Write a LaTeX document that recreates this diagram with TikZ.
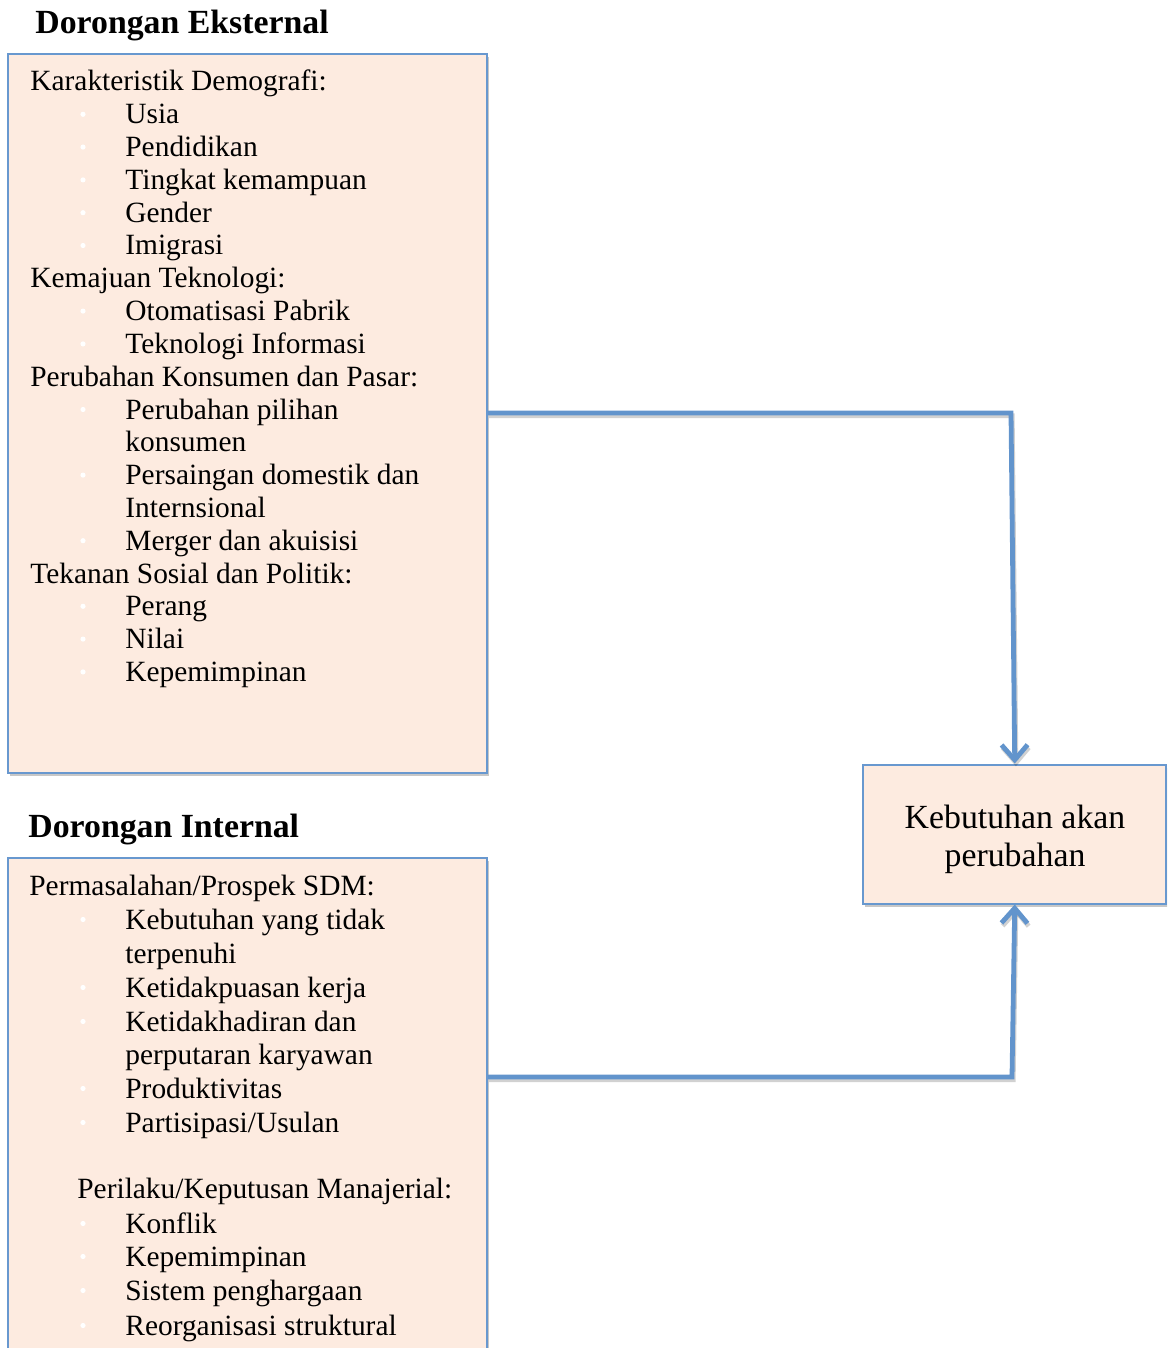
\documentclass[tikz,border=0pt]{standalone}
\usepackage{fontspec}
\setmainfont{Liberation Serif}
\usetikzlibrary{arrows.meta,shadows,fit}
\definecolor{peach}{RGB}{253,235,224}
\definecolor{boxblue}{RGB}{104,152,207}
\definecolor{lineblue}{RGB}{98,148,204}
\newcommand\bfnt{\fontsize{14.7}{17}\selectfont}
\newcommand\tfnt{\fontsize{16.9}{19}\selectfont\bfseries}
\newcommand\kfnt{\fontsize{16.9}{19}\selectfont}
\newcommand\wb[1]{\fill[white] (83,#1-9.5) circle[radius=2.6];}
\tikzset{
  panel/.style={draw=boxblue, fill=peach, line width=1pt, inner sep=0pt,
    drop shadow={shadow xshift=0.8pt, shadow yshift=-1.6pt, fill=black, opacity=0.22}},
  txt/.style={anchor=base west, inner sep=0pt, font=\bfnt},
  ttl/.style={anchor=base west, inner sep=0pt, font=\tfnt},
  link/.style={draw=lineblue, line width=2.4pt,
    preaction={draw=black, opacity=0.18, line width=2.4pt, transform canvas={xshift=0.6pt, yshift=-1.4pt}}},
  tip/.style={-{Straight Barb[length=7.5pt,width=13pt,line width=2.4pt]}}
}
\begin{document}
\begin{tikzpicture}[x=0.5pt,y=-0.5pt]
\clip (0,0) rectangle (1167,1348);
% titles
\node[ttl] (ttlE) at (35,34) {Dorongan Eksternal};
\node[ttl] (ttlI) at (28,837) {Dorongan Internal};
% panels
\coordinate (e1) at (8,54); \coordinate (e2) at (487,773);
\node[panel, fit=(e1)(e2)] (ext) {};
\coordinate (i1) at (8,858); \coordinate (i2) at (487,1400);
\node[panel, fit=(i1)(i2)] (int) {};
\node[panel, minimum width=151.5pt, minimum height=69.5pt] (res) at (1014.75,834) {};
\node[font=\kfnt, align=center, inner sep=0pt] (restxt) at (1015,839.5) {Kebutuhan akan\\perubahan};
% external text
\node[txt] (a1) at (30,91) {Karakteristik Demografi:};
\node[txt] (a2) at (125,123.8) {Usia};
\node[txt] (a3) at (125,156.6) {Pendidikan};
\node[txt] (a4) at (125,189.4) {Tingkat kemampuan};
\node[txt] (a5) at (125,222.2) {Gender};
\node[txt] (a6) at (125,255) {Imigrasi};
\node[txt] (a7) at (30,287.8) {Kemajuan Teknologi:};
\node[txt] (a8) at (125,320.6) {Otomatisasi Pabrik};
\node[txt] (a9) at (125,353.4) {Teknologi Informasi};
\node[txt] (a10) at (30,386.2) {Perubahan Konsumen dan Pasar:};
\node[txt] (a11) at (125,419) {Perubahan pilihan};
\node[txt] (a12) at (125,451.8) {konsumen};
\node[txt] (a13) at (125,484.6) {Persaingan domestik dan};
\node[txt] (a14) at (125,517.4) {Internsional};
\node[txt] (a15) at (125,550.2) {Merger dan akuisisi};
\node[txt] (a16) at (30,583) {Tekanan Sosial dan Politik:};
\node[txt] (a17) at (125,615.8) {Perang};
\node[txt] (a18) at (125,648.6) {Nilai};
\node[txt] (a19) at (125,681.4) {Kepemimpinan};
\foreach \b in {123.8,156.6,189.4,222.2,255,320.6,353.4,419,484.6,550.2,615.8,648.6,681.4} {\wb{\b}}
% internal text
\node[txt] (b1) at (29,895) {Permasalahan/Prospek SDM:};
\node[txt] (b2) at (125,929) {Kebutuhan yang tidak};
\node[txt] (b3) at (125,963) {terpenuhi};
\node[txt] (b4) at (125,997) {Ketidakpuasan kerja};
\node[txt] (b5) at (125,1031) {Ketidakhadiran dan};
\node[txt] (b6) at (125,1064) {perputaran karyawan};
\node[txt] (b7) at (125,1098) {Produktivitas};
\node[txt] (b8) at (125,1132) {Partisipasi/Usulan};
\node[txt] (b9) at (77,1198) {Perilaku/Keputusan Manajerial:};
\node[txt] (b10) at (125,1233) {Konflik};
\node[txt] (b11) at (125,1266) {Kepemimpinan};
\node[txt] (b12) at (125,1300) {Sistem penghargaan};
\node[txt] (b13) at (125,1335) {Reorganisasi struktural};
\foreach \b in {929,997,1031,1098,1132,1233,1266,1300,1335} {\wb{\b}}
% connectors
\coordinate (c1) at (1011,413);
\coordinate (c2) at (1012,1077);
\draw[link, tip] (ext.east |- c1) -- (c1) -- (res.north);
\draw[link, tip] (int.east |- c2) -- (c2) -- (res.south);
\end{tikzpicture}
\end{document}
